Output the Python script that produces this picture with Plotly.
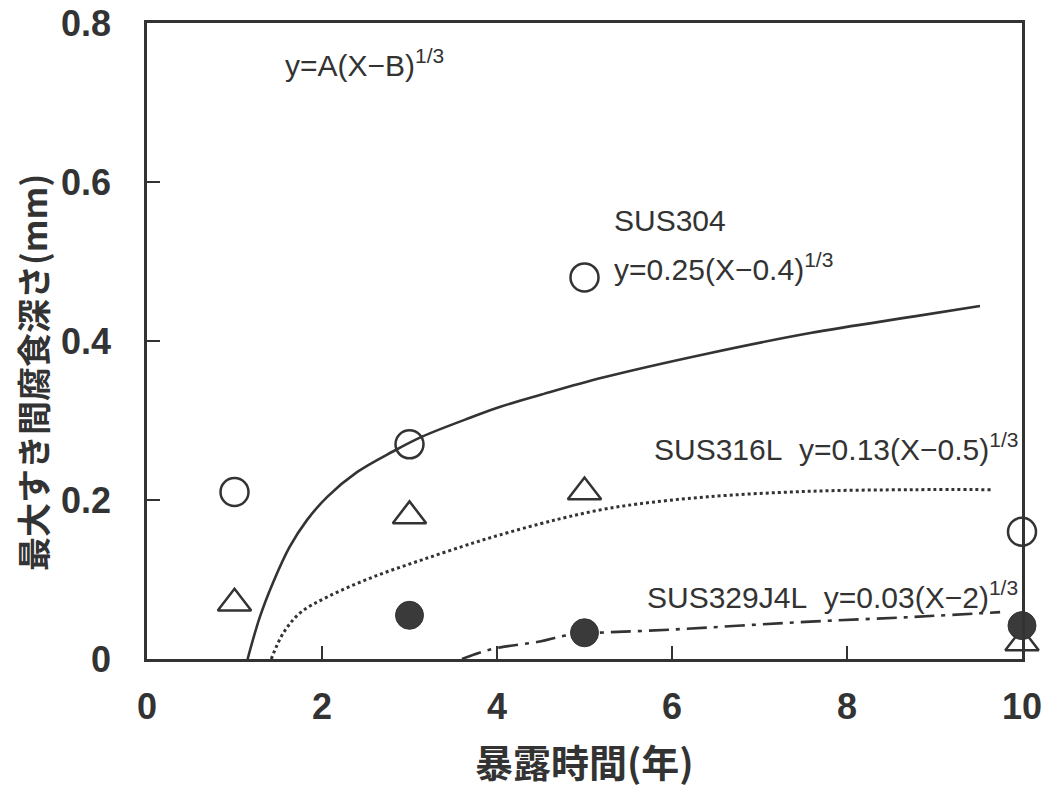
import plotly.graph_objects as go

# ---- data ----
years = [1, 3, 5, 10]
sus304_depth = [0.21, 0.27, 0.48, 0.16]
sus316l_depth = [0.07, 0.18, 0.21, 0.02]
years_329 = [3, 5, 10]
sus329_depth = [0.055, 0.033, 0.042]

# fitted curves
fit304_x = [1.15, 1.29, 1.44, 1.63, 1.83, 2.06, 2.40, 2.81, 3.15, 3.73, 4.03, 4.49, 5.21, 6.40, 7.58, 8.77, 9.52]
fit304_y = [0.0, 0.053, 0.096, 0.141, 0.175, 0.204, 0.235, 0.261, 0.280, 0.305, 0.317, 0.332, 0.354, 0.384, 0.410, 0.431, 0.444]

fit316_x = [1.42, 1.56, 1.75, 2.06, 2.58, 3.15, 3.73, 4.03, 4.49, 4.82, 5.20, 5.61, 6.40, 7.58, 8.77, 9.65]
fit316_y = [0.0, 0.033, 0.058, 0.078, 0.103, 0.125, 0.146, 0.156, 0.170, 0.179, 0.188, 0.195, 0.204, 0.211, 0.213, 0.213]

fit329_x = [3.60, 3.80, 4.01, 4.49, 4.82, 6.00, 7.58, 8.77, 9.75]
fit329_y = [0.0, 0.008, 0.014, 0.022, 0.030, 0.037, 0.047, 0.053, 0.059]

x_ticks = [0, 2, 4, 6, 8, 10]
x_ticktext = ["0", "2", "4", "6", "8", "10"]
y_ticks = [0, 0.2, 0.4, 0.6, 0.8]
y_ticktext = ["0", "0.2", "0.4", "0.6", "0.8"]

INK = "#333333"
NUM_FONT = "Liberation Sans, Arial, sans-serif"
CJK_FONT = "Noto Sans CJK JP, sans-serif"

fig = go.Figure()

fig.add_trace(go.Scatter(x=fit304_x, y=fit304_y, mode="lines", line=dict(color=INK, width=2.6, shape="spline"),
                         showlegend=False, hoverinfo="skip"))
fig.add_trace(go.Scatter(x=fit316_x, y=fit316_y, mode="lines", line=dict(color=INK, width=3, dash="dot", shape="spline"),
                         showlegend=False, hoverinfo="skip"))
fig.add_trace(go.Scatter(x=fit329_x, y=fit329_y, mode="lines",
                         line=dict(color=INK, width=2.6, dash="20px,7px,4px,7px", shape="spline"),
                         showlegend=False, hoverinfo="skip"))

fig.add_trace(go.Scatter(x=years, y=sus304_depth, mode="markers", cliponaxis=False,
                         marker=dict(symbol="circle-open", size=28, color=INK, line=dict(width=2.5, color=INK)),
                         showlegend=False))
fig.add_trace(go.Scatter(x=years, y=sus316l_depth, mode="markers", cliponaxis=False,
                         marker=dict(symbol="triangle-up-open", size=29, color=INK, line=dict(width=2.5, color=INK)),
                         showlegend=False))
fig.add_trace(go.Scatter(x=years_329, y=sus329_depth, mode="markers", cliponaxis=False,
                         marker=dict(symbol="circle", size=28, color="#3a3a3a", line=dict(width=1, color=INK)),
                         showlegend=False))

ann_font = dict(family=NUM_FONT, size=30, color=INK)
NB = "\u00a0"
annotations = [
    dict(x=1.55, y=0.75, text="y=A(X\u2212B)<sup>1/3</sup>"),
    dict(x=5.31, y=0.551, text="SUS304"),
    dict(x=5.31, y=0.493, text="y=0.25(X\u22120.4)<sup>1/3</sup>"),
    dict(x=5.77, y=0.267, text="SUS316L" + NB + NB + "y=0.13(X\u22120.5)<sup>1/3</sup>"),
    dict(x=5.69, y=0.080, text="SUS329J4L" + NB + NB + "y=0.03(X\u22122)<sup>1/3</sup>"),
]
for a in annotations:
    fig.add_annotation(xref="x", yref="y", x=a["x"], y=a["y"], text=a["text"], showarrow=False,
                       xanchor="left", yanchor="middle", font=ann_font)

# axis titles
fig.add_annotation(xref="paper", yref="paper", x=0.5, y=-0.16, text="暴露時間(年)", showarrow=False,
                   xanchor="center", yanchor="middle",
                   font=dict(family=CJK_FONT, size=38, color=INK, weight=700))
fig.add_annotation(xref="paper", yref="paper", x=-0.13, y=0.45, text="最大すき間腐食深さ(mm)", showarrow=False,
                   textangle=-90, xanchor="center", yanchor="middle",
                   font=dict(family=CJK_FONT, size=34, color=INK, weight=700))

axis_common = dict(showline=True, linecolor=INK, linewidth=2.5, mirror=True, showgrid=False, zeroline=False,
                   ticks="inside", ticklen=13, tickwidth=2, tickcolor=INK, ticklabeloverflow="allow",
                   automargin=False,
                   tickfont=dict(family=NUM_FONT, size=36, color=INK, weight=700))

fig.update_xaxes(range=[0, 10], tickvals=x_ticks, ticktext=x_ticktext, ticklabelstandoff=14, **axis_common)
fig.update_yaxes(range=[0, 0.8], tickvals=y_ticks, ticktext=y_ticktext, ticklabelstandoff=26, **axis_common)

# page body has an 8px default margin; size the figure to compensate
fig.update_layout(width=1035, height=778, margin=dict(l=139, r=21, t=15, b=127, autoexpand=False),
                  paper_bgcolor="white", plot_bgcolor="white", showlegend=False)

fig.write_html("out.html")
